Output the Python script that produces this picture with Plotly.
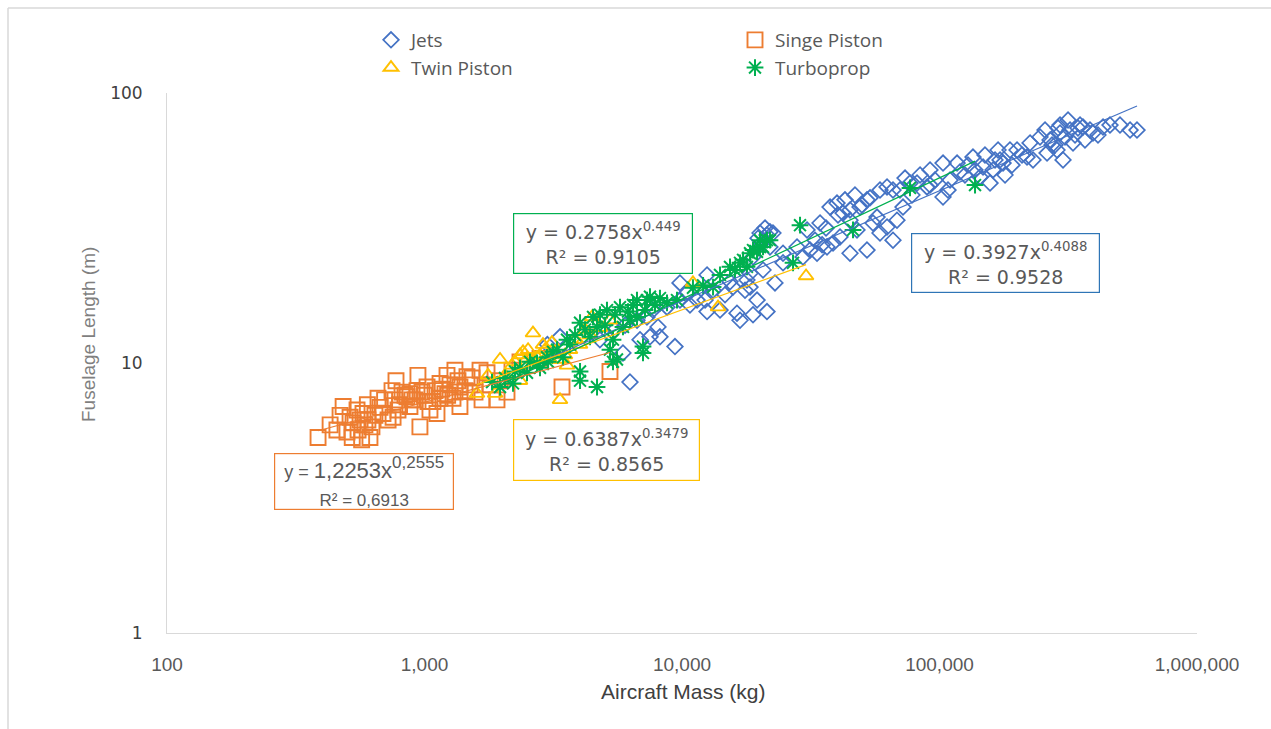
import numpy as np
import plotly.graph_objects as go

# ---- Aircraft data: maximum take-off mass (kg) vs fuselage length (m) ----
jets_mass = [3360, 3000, 4800, 5490, 6010, 6690, 6280, 5900, 6870, 7510, 8210, 7710, 7310,
             8070, 8750, 9390, 9820, 9820, 10460, 11440, 12510, 13200, 14050, 15780, 16350,
             16800, 17880, 18870, 21380, 18370, 20640, 20090, 21380, 22560, 18370, 24680,
             29520, 33450, 36570, 30590, 34360, 37570, 39990, 42200, 44930, 49130, 52290,
             57190, 62540, 68380, 72150, 65980, 62540, 81780, 89430, 103200, 117000, 134900,
             147600, 161400, 176500, 143700, 157100, 200000, 224700, 245700, 268700, 293800,
             321300, 360800, 394600, 431500, 330000, 301800, 286000, 261600, 230800, 218700,
             41080, 47830, 58740, 55180, 44930, 38590, 27970, 24680, 21960, 18870, 549500,
             584800, 120100, 109900, 125600, 171800, 187800, 209100, 280900, 307200, 336000,
             384100, 459300, 351300, 293800, 70240, 91860, 76810, 91860, 103200, 65980,
             52290, 12510,
             42950, 46970, 50000, 53730, 58740, 44930, 40350, 36250, 32860, 35000, 31420,
             73460, 84030, 96000, 107900, 78200,
             129000, 137400, 164300, 179700, 150200, 168800, 191200,
             256900, 273500, 288600, 315600, 367300, 412600, 345000, 502300,
             14690, 17570, 19560, 22970, 15360, 12290, 10740,
             19730, 21010, 21960, 20400]
jets_length = [12.5, 11.7, 12.2, 13.3, 13.8, 14.4, 8.5, 10.9, 12.2, 12.5, 12.5, 15.7, 14.8,
               13.6, 16.1, 11.5, 19.8, 17.1, 18.2, 17.1, 15.5, 18.6, 15.7, 19.1, 15.3,
               14.4, 20.3, 15.1, 15.5, 19.1, 22.1, 30.3, 29.8, 30.3, 21.5, 23.5,
               24.7, 25.5, 26.9, 31.1, 33.0, 37.8, 39.1, 35.9, 33.8, 37.8, 40.2,
               34.7, 31.9, 33.8, 37.8, 43.7, 44.9, 46.4, 44.9, 41.2, 55.0, 57.9,
               53.2, 51.9, 55.0, 48.9, 46.4, 61.5, 65.3, 68.7, 67.0, 71.1,
               72.9, 74.8, 71.1, 74.8, 65.3, 56.5, 61.5, 59.9, 56.5, 57.9,
               29.3, 31.1, 30.3, 33.0, 25.5, 27.8, 26.9, 25.5, 26.9, 24.7, 72.9,
               72.9, 51.0, 47.6, 49.7, 56.5, 61.5, 58.9, 64.2, 68.7, 69.9,
               72.9, 76.1, 76.1, 76.1, 43.7, 45.6, 46.4, 51.9, 55.0, 28.5,
               26.2, 21.2,
               40.2, 41.9, 38.5, 40.9, 43.7, 36.9, 35.3, 31.6, 28.5, 27.4, 26.2,
               48.4, 49.7, 47.6, 43.7, 41.9,
               54.1, 51.9, 56.5, 49.7, 58.9, 61.5, 54.1,
               72.9, 64.2, 74.2, 79.4, 67.0, 69.9, 74.2, 76.1,
               17.9, 18.6, 17.1, 19.8, 20.0, 17.1, 16.4,
               29.0, 31.6, 30.6, 27.8]

single_mass = [386, 457, 500, 483, 528, 547, 562, 577, 587, 600, 614, 625, 642, 660, 690,
               700, 748, 755, 768, 800, 840, 855, 878, 878, 919, 935, 960, 1000, 1023, 1050,
               1079, 1099, 1118, 1149, 1149, 1201, 1223, 1256, 1290, 1313, 1373, 1373, 1462,
               1502, 1571, 1643, 1673, 1749, 1912, 1965, 2091, 2187, 2349, 2809, 3420, 5252,
               524, 570,
               430, 470, 514, 552, 603, 672, 722, 789, 818, 894, 978, 1032, 1169, 1230,
               1349, 1437, 1529, 1797, 775, 1313, 943]
single_length = [5.3, 5.65, 5.55, 6.9, 6.0, 6.7, 6.15, 6.5, 5.9, 7.0, 5.3, 5.8, 6.4, 7.4, 6.5,
                 7.3, 7.9, 6.3, 7.3, 7.0, 7.6, 7.5, 6.9, 7.7, 7.3, 7.9, 5.8, 7.6, 8.15, 6.7,
                 7.2, 7.9, 6.5, 8.4, 7.4, 7.7, 9.0, 8.3, 7.4, 7.8, 8.15, 6.9, 8.9,
                 8.3, 7.8, 9.4, 7.3, 9.2, 7.3, 8.6, 7.8, 9.4, 10.1, 10.4, 8.15, 9.3,
                 5.3, 5.2,
                 5.9, 6.4, 6.3, 5.65, 6.15, 6.85, 6.15, 6.7, 7.8, 7.3, 7.8, 7.2, 8.0, 7.6,
                 8.6, 7.9, 8.8, 8.3, 8.6, 9.4, 9.0]

twin_mass = [1599, 1880, 1765, 2054, 1965, 2187, 2349, 2501, 2525, 2638, 2735, 2809, 2938,
             3072, 3127, 3212, 3359, 3359, 3513, 3576, 3674, 4018, 4393, 4472, 4804, 5252,
             11030, 13800, 30320, 2349, 2638,
             2246, 2413, 2885, 3020, 3842, 4202]
twin_length = [7.7, 7.7, 9.0, 9.0, 10.3, 9.8, 10.7, 10.4, 11.2, 12.9, 10.5, 10.7, 11.2,
               10.3, 11.9, 11.0, 10.3, 7.3, 10.7, 9.8, 11.2, 11.7, 12.7, 14.8, 13.5, 14.4,
               19.8, 16.1, 21.0, 8.6, 10.3,
               10.1, 11.0, 11.7, 10.7, 12.2, 13.3]

turbo_mass = [1829, 1965, 2054, 2207, 2246, 2501, 2735, 2809, 2991, 3020, 3270, 3451, 3576,
              4018, 4018, 4018, 4393, 4513, 4677, 4677, 5113, 5252, 5395, 5395, 5592, 5743,
              5900, 6281, 6686, 6686, 7055, 7055, 7312, 7510, 8745, 9563, 11030, 13200,
              14050, 15360, 16800, 17260, 17880, 18370, 18870, 20090, 20090, 20640, 21380,
              21960, 26990, 28730, 46150, 76810, 137400,
              4202, 4804, 5023, 5493, 6170, 6452, 7183, 7855, 3674, 3842, 3155, 2568, 2349,
              8211, 12070, 16060, 19560]
turbo_length = [8.5, 8.15, 8.8, 8.4, 9.3, 9.2, 10.0, 9.6, 10.5, 10.1, 11.2, 10.5, 12.2,
                14.1, 9.3, 8.6, 12.5, 14.8, 13.6, 8.15, 15.7, 11.2, 12.2, 10.1, 10.3, 16.1,
                13.6, 14.4, 14.8, 17.1, 11.5, 10.9, 17.1, 17.6, 16.7, 17.1, 19.0, 19.1,
                21.2, 22.7, 23.5, 24.1, 22.7, 25.5, 26.2, 26.9, 28.5, 26.9, 28.5,
                28.5, 23.5, 32.4, 31.1, 44.5, 45.6,
                13.3, 15.1, 13.8, 15.1, 15.5, 16.4, 15.7, 16.4, 11.7, 12.7, 11.0, 10.1, 9.6,
                17.4, 19.4, 22.1, 25.8]

# Power-law trendlines y = a * x^b with their R^2
fits = {
    "Jets":         (0.3927, 0.4088, 0.9528),
    "Singe Piston": (1.2253, 0.2555, 0.6913),
    "Twin Piston":  (0.6387, 0.3479, 0.8565),
    "Turboprop":    (0.2758, 0.449, 0.9105),
}

x_ticks = [100, 1000, 10000, 100000, 1000000]
x_ticktext = ["100", "1,000", "10,000", "100,000", "1,000,000"]
y_ticks = [1, 10, 100]
y_ticktext = ["1", "10", "100"]

BLUE, ORANGE, GOLD, GREEN = "#4472C4", "#ED7D31", "#FFC000", "#00B050"

series = [
    ("Jets", jets_mass, jets_length, "diamond-open", 12, 1.7, BLUE),
    ("Singe Piston", single_mass, single_length, "square-open", 15, 1.9, ORANGE),
    ("Twin Piston", twin_mass, twin_length, "triangle-up-open", 13, 1.9, GOLD),
    ("Turboprop", turbo_mass, turbo_length, "asterisk-open", 14, 2.0, GREEN),
]

fig = go.Figure()
for name, xs, ys, sym, size, lw, col in series:
    fig.add_trace(go.Scatter(
        x=xs, y=ys, mode="markers", name=name,
        marker=dict(symbol=sym, size=size, color=col, line=dict(color=col, width=lw)),
    ))

# trendlines drawn over each series' own mass range
for name, xs, ys, sym, size, lw, col in series:
    a, b, r2 = fits[name]
    xf = np.geomspace(min(xs), max(xs), 40)
    fig.add_trace(go.Scatter(
        x=xf, y=a * xf ** b, mode="lines", showlegend=False, hoverinfo="skip",
        line=dict(color=col, width=1.2),
    ))

L, R, T, B = 167, 74, 93, 96
W, H = 1271, 729
PW, PH = W - L - R, H - T - B


def px(xp):
    return (xp - L) / PW


def py(yp):
    return (H - B - yp) / PH


EQ_FONT = dict(family="DejaVu Sans", size=19, color="#595959")


def eq_box(cx, cy, w, h, text, border, font=EQ_FONT):
    fig.add_annotation(
        x=px(cx), y=py(cy), xref="paper", yref="paper", xanchor="center", yanchor="middle",
        text=text, showarrow=False, width=w, height=h, align="center", valign="middle",
        bordercolor=border, borderwidth=1.2, borderpad=0, bgcolor="white", font=font,
    )


def fmt(v, sep="."):
    return str(v).replace(".", sep)


a, b, r2 = fits["Turboprop"]
eq_box(602.5, 243, 178, 59, f"y = {a}x<sup>{b}</sup><br>R² = {r2}", GREEN)
a, b, r2 = fits["Jets"]
eq_box(1005, 262.5, 187, 58, f"y = {a}x<sup>{b}</sup><br>R² = {r2}", "#2E75B6")
a, b, r2 = fits["Twin Piston"]
eq_box(606, 449.5, 185, 60, f"y = {a}x<sup>{b}</sup><br>R² = {r2}", GOLD)
a, b, r2 = fits["Singe Piston"]
eq_box(363.5, 481, 178, 55,
       f"<span style='font-size:18px'>y = </span>{fmt(a, ',')}x"
       f"<sup><span style='font-size:17px'>{fmt(b, ',')}</span></sup><br>"
       f"<span style='font-size:17px'>R² = {fmt(r2, ',')}</span>",
       ORANGE, font=dict(family="Liberation Sans", size=22, color="#595959"))

# axis titles
fig.add_annotation(x=px(683), y=py(691), xref="paper", yref="paper", showarrow=False,
                   text="Aircraft Mass (kg)", xanchor="center", yanchor="middle",
                   font=dict(family="Liberation Sans Narrow, Arial Narrow, sans-serif",
                             size=21, color="#404040"))
fig.add_annotation(x=px(88), y=py(335), xref="paper", yref="paper", showarrow=False,
                   text="Fuselage Length (m)", textangle=-90, xanchor="center", yanchor="middle",
                   font=dict(family="Liberation Sans Narrow, Arial Narrow, sans-serif",
                             size=19, color="#7F7F7F"))

# outer chart frame (top and left edges)
frame = dict(color="#D9D9D9", width=1.5)
fig.add_shape(type="line", xref="paper", yref="paper", x0=px(8), x1=px(W + 2),
              y0=py(8), y1=py(8), line=frame)
fig.add_shape(type="line", xref="paper", yref="paper", x0=px(8), x1=px(8),
              y0=py(8), y1=py(H + 2), line=frame)

fig.update_xaxes(
    type="log", range=[2, 6], tickvals=x_ticks, ticktext=x_ticktext,
    showline=True, linecolor="#D9D9D9", linewidth=1, showgrid=False, zeroline=False,
    ticks="", ticklabelstandoff=14,
    tickfont=dict(family="Liberation Sans Narrow, Arial Narrow, sans-serif", size=19,
                  color="#595959"),
)
fig.update_yaxes(
    type="log", range=[0, 2], tickvals=y_ticks, ticktext=y_ticktext,
    showline=True, linecolor="#D9D9D9", linewidth=1, showgrid=False, zeroline=False,
    ticks="", ticklabelstandoff=20,
    tickfont=dict(family="DejaVu Sans", size=17, color="#404040"),
)

fig.update_layout(
    width=W, height=H, autosize=False,
    margin=dict(l=L, r=R, t=T, b=B),
    paper_bgcolor="white", plot_bgcolor="white",
    showlegend=True,
    legend=dict(
        orientation="h", x=px(371), y=py(21), xanchor="left", yanchor="top",
        entrywidth=319, entrywidthmode="pixels",
        font=dict(family="Open Sans", size=19, color="#595959"),
        bgcolor="rgba(0,0,0,0)", itemclick=False,
    ),
)

fig.write_html("out.html")
